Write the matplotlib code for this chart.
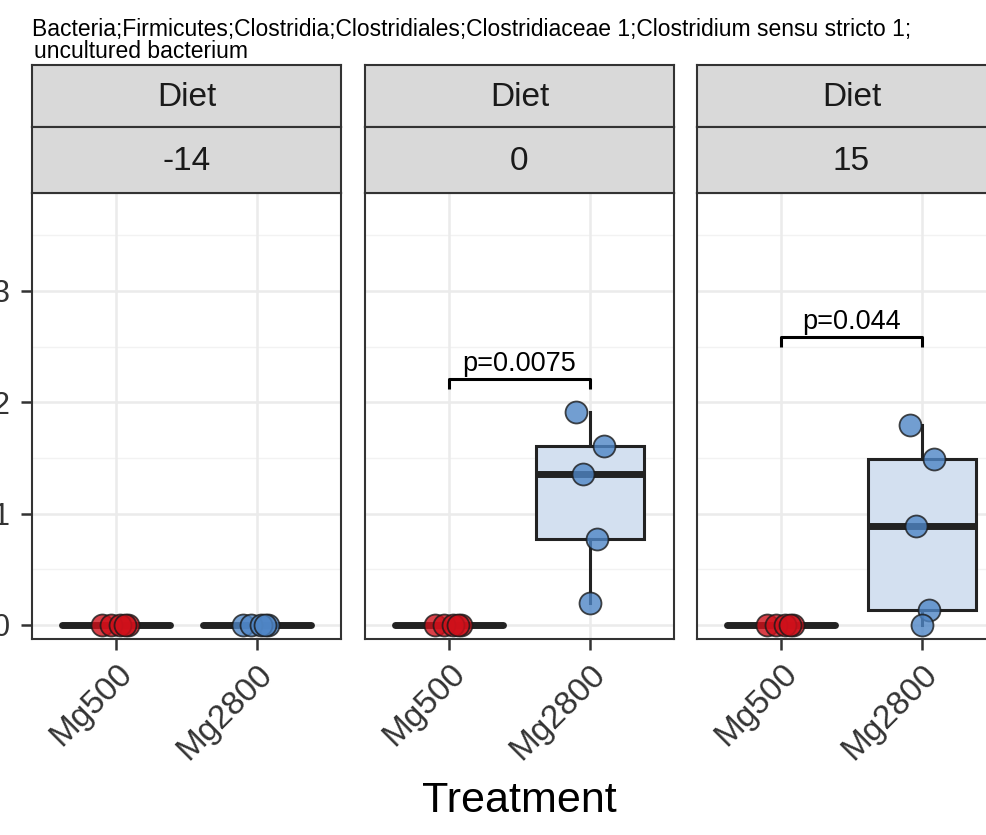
import matplotlib
matplotlib.use("Agg")
import matplotlib.pyplot as plt
import numpy as np

plt.rcParams['font.family'] = ['Liberation Sans', 'DejaVu Sans']

# ---------------- data ----------------
title_line1 = "Bacteria;Firmicutes;Clostridia;Clostridiales;Clostridiaceae 1;Clostridium sensu stricto 1;"
title_line2 = "uncultured bacterium"
strip_top = "Diet"
days = ["-14", "0", "15"]
treatments = ["Mg500", "Mg2800"]
x_label = "Treatment"
y_ticks = [0, 1, 2, 3]

mg500_d14 = [0.0, 0.0, 0.0, 0.0, 0.0]
mg2800_d14 = [0.0, 0.0, 0.0, 0.0, 0.0]
mg500_d0 = [0.0, 0.0, 0.0, 0.0, 0.0]
mg2800_d0 = [1.91, 1.61, 1.36, 0.77, 0.20]
mg500_d15 = [0.0, 0.0, 0.0, 0.0, 0.0]
mg2800_d15 = [1.80, 1.49, 0.89, 0.13, 0.0]

p_labels = [None, "p=0.0075", "p=0.044"]
p_heights = [None, 2.21, 2.59]

# jitter offsets (x, in category units)
jit_mg500 = [-0.10, 0.08, -0.04, 0.03, 0.06]
jit_d0 = [-0.10, 0.10, -0.05, 0.05, 0.0]
jit_d15 = [-0.085, 0.09, -0.04, 0.05, 0.005]

groups = [
    (mg500_d14, mg2800_d14, jit_mg500, jit_mg500),
    (mg500_d0, mg2800_d0, jit_mg500, jit_d0),
    (mg500_d15, mg2800_d15, jit_mg500, jit_d15),
]

# ---------------- style ----------------
W, H = 987, 835
RED = "#D0101A"
BLUE = "#4F86C6"
RED_FILL = "#F3CFD0"
BLUE_FILL = "#D3E0F0"
DARK = "#222222"
BORDER = "#333333"
GRID = "#EBEBEB"

fig = plt.figure(figsize=(W / 100, H / 100), dpi=100)


def fx(px):
    return px / W


def fy(py):
    return 1 - py / H


panel_left = [32, 365, 697]
pw = 309
ptop, pbot = 193, 639
s1top, s1bot = 65, 127

for i, day in enumerate(days):
    l = panel_left[i]
    ax = fig.add_axes([fx(l), fy(pbot), pw / W, (pbot - ptop) / H])
    ax.set_xlim(0.4, 2.6)
    ax.set_ylim(-0.126, 3.88)
    # grid
    for yv in [0.5, 1.5, 2.5, 3.5]:
        ax.axhline(yv, color="#F2F2F2", lw=1.0, zorder=0)
    for yv in y_ticks:
        ax.axhline(yv, color=GRID, lw=1.8, zorder=0)
    for xv in [1, 2]:
        ax.axvline(xv, color=GRID, lw=1.8, zorder=0)

    a, b, ja, jb = groups[i]
    for k, (vals, jit, fc, pc) in enumerate([(a, ja, RED_FILL, RED), (b, jb, BLUE_FILL, BLUE)]):
        pos = k + 1
        flat = (max(vals) - min(vals)) == 0
        bp = ax.boxplot([vals], positions=[pos], widths=0.77, patch_artist=True,
                        showfliers=False, whis=1.5, manage_ticks=False,
                        boxprops=dict(facecolor=fc, edgecolor=DARK, linewidth=2.2),
                        whiskerprops=dict(color=DARK, linewidth=2.2),
                        capprops=dict(linewidth=0),
                        medianprops=dict(color=DARK, linewidth=5.0,
                                         solid_capstyle="round" if flat else "butt"),
                        zorder=2)
        for c in bp["caps"]:
            c.set_visible(False)
        ax.scatter(np.array(jit) + pos, vals, s=250, color=pc, alpha=0.8,
                   edgecolor="#1A1A1A", linewidth=1.3, zorder=3)

    if p_labels[i] is not None:
        h = p_heights[i]
        ax.plot([1, 1, 2, 2], [h - 0.09, h, h, h - 0.09], color="black", lw=2.2,
                solid_capstyle="butt", zorder=4)
        ax.text(1.5, h + 0.015, p_labels[i], ha="center", va="bottom",
                fontsize=19.5, color="black")

    for sp in ax.spines.values():
        sp.set_color(BORDER)
        sp.set_linewidth(1.5)
    ax.set_xticks([1, 2])
    ax.set_xticklabels(treatments, rotation=45, ha="right", va="top",
                       rotation_mode="anchor", fontsize=24, color="#333333")
    ax.tick_params(axis="x", length=8, width=1.8, color=BORDER, pad=6)
    if i == 0:
        ax.set_yticks(y_ticks)
        ax.set_yticklabels([str(v) for v in y_ticks], fontsize=22, color="#333333")
        ax.tick_params(axis="y", length=8, width=1.8, color=BORDER, pad=8)
    else:
        ax.set_yticks([])

    # strips
    for (t0, t1, label) in [(s1top, s1bot, strip_top), (s1bot, ptop, day)]:
        sax = fig.add_axes([fx(l), fy(t1), pw / W, (t1 - t0) / H])
        sax.set_facecolor("#D9D9D9")
        sax.set_xticks([])
        sax.set_yticks([])
        for sp in sax.spines.values():
            sp.set_color(BORDER)
            sp.set_linewidth(1.5)
        sax.text(0.5, 0.48, label, transform=sax.transAxes, ha="center",
                 va="center", fontsize=24, color="#1A1A1A")

fig.text(fx(32), fy(36), title_line1, ha="left", va="baseline", fontsize=16.5, color="black")
fig.text(fx(34), fy(58), title_line2, ha="left", va="baseline", fontsize=16.5, color="black")
fig.text(fx(519), fy(812), x_label, ha="center", va="baseline", fontsize=31, color="black")

fig.savefig("out.png", dpi=100)
